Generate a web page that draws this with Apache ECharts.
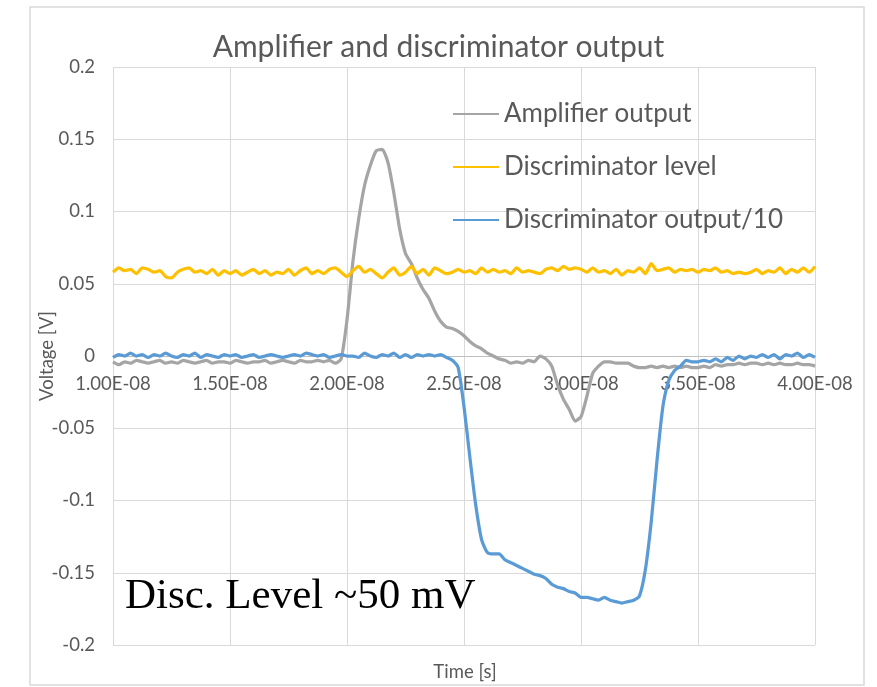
<!DOCTYPE html>
<html>
<head>
<meta charset="utf-8">
<title>Amplifier and discriminator output</title>
<script src="https://cdn.jsdelivr.net/npm/echarts@6/dist/echarts.min.js"></script>
<style>
    html, body { margin: 0; padding: 0; background: #ffffff; }
    #chart { width: 877px; height: 687px; }
</style>
</head>
<body>
<div id="chart"></div>
<script>
// sample grid: 1.00E-08 s to 4.00E-08 s, one sample every 0.25 ns
var timeStart = 1e-8;
var timeStep = 0.025e-8;

var seriesNames = ['Amplifier output', 'Discriminator level', 'Discriminator output/10'];

var amplifierOutput = [
    -0.004, -0.006, -0.004, -0.005, -0.003, -0.004, -0.005, -0.004, -0.003, -0.005,
    -0.004, -0.005, -0.003, -0.004, -0.005, -0.004, -0.003, -0.005, -0.004, -0.004,
    -0.005, -0.003, -0.004, -0.005, -0.004, -0.004, -0.003, -0.005, -0.004, -0.003,
    -0.004, -0.005, -0.003, -0.004, -0.004, -0.003, -0.004, -0.003, -0.005, -0.002,
    0.025, 0.065, 0.095, 0.118, 0.132, 0.142, 0.143, 0.134, 0.113, 0.088,
    0.071, 0.064, 0.054, 0.046, 0.040, 0.031, 0.024, 0.020, 0.019, 0.017,
    0.014, 0.010, 0.007, 0.005, 0.002, 0.000, -0.002, -0.003, -0.005, -0.004,
    -0.005, -0.003, -0.004, 0.000, -0.002, -0.007, -0.020, -0.030, -0.037, -0.045,
    -0.042, -0.028, -0.012, -0.007, -0.004, -0.004, -0.005, -0.005, -0.005, -0.007,
    -0.008, -0.008, -0.007, -0.008, -0.007, -0.008, -0.007, -0.008, -0.007, -0.008,
    -0.008, -0.007, -0.008, -0.006, -0.007, -0.006, -0.006, -0.005, -0.006, -0.005,
    -0.005, -0.006, -0.005, -0.006, -0.005, -0.006, -0.006, -0.005, -0.006, -0.006,
    -0.007
];

var discriminatorLevel = [
    0.058, 0.061, 0.059, 0.060, 0.057, 0.061, 0.060, 0.058, 0.059, 0.055,
    0.054, 0.058, 0.060, 0.061, 0.058, 0.059, 0.057, 0.060, 0.056, 0.059,
    0.057, 0.059, 0.056, 0.058, 0.060, 0.057, 0.059, 0.056, 0.058, 0.057,
    0.060, 0.056, 0.059, 0.061, 0.057, 0.059, 0.057, 0.060, 0.061, 0.058,
    0.055, 0.059, 0.062, 0.058, 0.060, 0.057, 0.054, 0.058, 0.061, 0.056,
    0.058, 0.062, 0.057, 0.060, 0.056, 0.061, 0.059, 0.057, 0.058, 0.060,
    0.058, 0.059, 0.057, 0.061, 0.058, 0.060, 0.058, 0.059, 0.057, 0.061,
    0.058, 0.059, 0.058, 0.057, 0.060, 0.061, 0.059, 0.062, 0.060, 0.061,
    0.060, 0.058, 0.061, 0.058, 0.059, 0.057, 0.060, 0.056, 0.059, 0.058,
    0.061, 0.057, 0.064, 0.059, 0.060, 0.061, 0.058, 0.060, 0.059, 0.060,
    0.058, 0.060, 0.059, 0.061, 0.058, 0.059, 0.057, 0.058, 0.057, 0.058,
    0.060, 0.057, 0.059, 0.058, 0.061, 0.057, 0.060, 0.058, 0.061, 0.058,
    0.062
];

var discriminatorOutput = [
    -0.001, 0.001, 0.000, 0.002, 0.000, 0.001, -0.001, 0.001, 0.000, 0.002,
    0.000, -0.001, 0.001, 0.000, 0.002, -0.001, 0.001, 0.000, -0.001, 0.001,
    0.000, 0.001, -0.001, 0.000, 0.001, -0.001, 0.000, 0.001, 0.000, -0.001,
    0.000, 0.001, 0.000, 0.002, 0.001, 0.000, 0.001, -0.001, 0.000, 0.001,
    0.000, 0.000, -0.001, 0.002, 0.000, -0.001, 0.001, 0.000, 0.002, -0.001,
    0.001, -0.001, 0.001, 0.000, 0.001, 0.000, 0.001, -0.001, -0.003, -0.008,
    -0.035, -0.070, -0.103, -0.127, -0.136, -0.137, -0.137, -0.141, -0.143, -0.145,
    -0.147, -0.149, -0.151, -0.152, -0.154, -0.158, -0.160, -0.161, -0.163, -0.164,
    -0.167, -0.167, -0.168, -0.169, -0.167, -0.169, -0.170, -0.171, -0.170, -0.169,
    -0.166, -0.148, -0.115, -0.072, -0.035, -0.017, -0.010, -0.007, -0.003, -0.004,
    -0.004, -0.003, -0.004, -0.002, -0.004, -0.001, -0.003, 0.000, -0.002, 0.000,
    -0.001, 0.001, -0.001, 0.001, -0.002, 0.001, 0.000, 0.002, -0.001, 0.001,
    -0.001
];

var seriesColors = ['#A5A5A5', '#FFC000', '#5B9BD5'];

function toPairs(values) {
    var pairs = [];
    for (var i = 0; i < values.length; i++) {
        pairs.push([timeStart + i * timeStep, values[i]]);
    }
    return pairs;
}

// Excel style "1.00E-08"
function excelExp(value) {
    var s = value.toExponential(2).toUpperCase();
    return s.replace(/E([+-])(\d+)$/, function (m, sign, digits) {
        return 'E' + sign + (digits.length < 2 ? '0' + digits : digits);
    });
}

function makeLine(name, values, color) {
    return {
        name: name,
        type: 'line',
        data: toPairs(values),
        symbol: 'none',
        smooth: 0.2,
        lineStyle: { color: color, width: 3.25 },
        itemStyle: { color: color },
        animation: false
    };
}

var chartDom = echarts.init(document.getElementById('chart'));
var textColor = '#595959';
var gridColor = '#D9D9D9';
var gridTop = 67;
var gridBottom = 42;
var plotHeight = 687 - gridTop - gridBottom;

var chartOptions = {
    backgroundColor: '#ffffff',
    animation: false,
    title: {
        text: 'Amplifier and discriminator output',
        left: 'center',
        top: 27,
        textStyle: {
            color: textColor,
            fontFamily: 'Lato',
            fontWeight: 'normal',
            fontSize: 30
        }
    },
    legend: {
        data: seriesNames,
        orient: 'vertical',
        left: 447,
        top: 96,
        itemWidth: 46,
        itemHeight: 26,
        itemGap: 27,
        itemStyle: { opacity: 0 },
        textStyle: {
            color: textColor,
            fontFamily: 'Lato',
            fontSize: 26,
            lineHeight: 26
        }
    },
    grid: {
        left: 113,
        right: 62,
        top: gridTop,
        bottom: gridBottom,
        containLabel: false
    },
    xAxis: {
        type: 'value',
        min: 1e-8,
        max: 4e-8,
        interval: 0.5e-8,
        // horizontal axis crosses at 0 V (middle of the -0.2..0.2 range)
        offset: -plotHeight / 2,
        axisLine: {
            onZero: false,
            lineStyle: { color: '#BFBFBF', width: 1 }
        },
        axisTick: { show: false },
        axisLabel: {
            color: textColor,
            fontFamily: 'Lato',
            fontSize: 18.5,
            margin: 19,
            formatter: excelExp
        },
        splitLine: {
            show: true,
            lineStyle: { color: gridColor, width: 1 }
        }
    },
    yAxis: {
        type: 'value',
        min: -0.2,
        max: 0.2,
        interval: 0.05,
        name: 'Voltage [V]',
        nameLocation: 'middle',
        nameGap: 56,
        nameMoveOverlap: false,
        nameRotate: 90,
        nameTextStyle: {
            color: textColor,
            fontFamily: 'Lato',
            fontSize: 18.5
        },
        axisLine: { show: false },
        axisTick: { show: false },
        axisLabel: {
            color: textColor,
            fontFamily: 'Lato',
            fontSize: 18.5,
            margin: 18
        },
        splitLine: {
            show: true,
            lineStyle: { color: gridColor, width: 1 }
        }
    },
    graphic: [
        {
            type: 'rect',
            shape: { x: 30, y: 7, width: 834, height: 678 },
            style: { fill: 'none', stroke: '#D9D9D9', lineWidth: 1.5 },
            silent: true,
            z: -10
        },
        {
            type: 'text',
            x: 465,
            y: 672,
            style: {
                text: 'Time [s]',
                fill: textColor,
                font: '18.5px Lato',
                textAlign: 'center',
                textVerticalAlign: 'middle'
            }
        },
        {
            type: 'text',
            x: 125,
            y: 597,
            style: {
                text: 'Disc. Level ~50 mV',
                fill: '#000000',
                font: '43px "Liberation Serif"',
                textAlign: 'left',
                textVerticalAlign: 'middle'
            },
            z: 100
        }
    ],
    series: [
        makeLine(seriesNames[0], amplifierOutput, seriesColors[0]),
        makeLine(seriesNames[1], discriminatorLevel, seriesColors[1]),
        makeLine(seriesNames[2], discriminatorOutput, seriesColors[2])
    ]
};

chartDom.setOption(chartOptions, true);
window.onresize = function () {
    chartDom.resize();
};
</script>
</body>
</html>
